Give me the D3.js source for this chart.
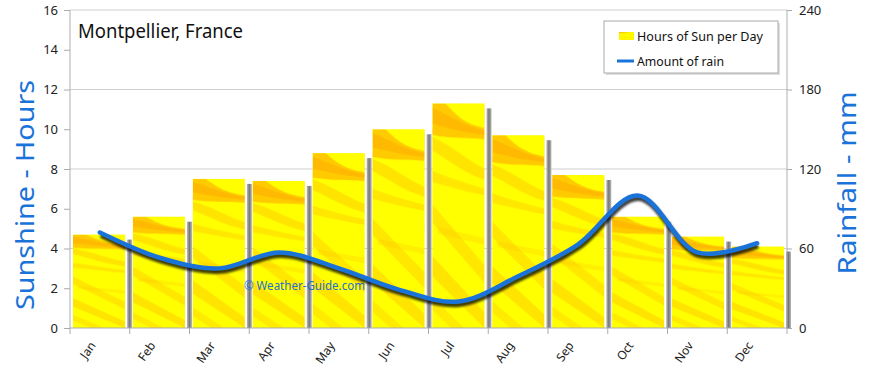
<!DOCTYPE html>
<html><head><meta charset="utf-8">
<script src="https://cdn.jsdelivr.net/npm/d3@7"></script>
<style>
body{margin:0;background:#fff;}
svg{display:block;font-family:"Comic Sans MS","Noto Sans","Open Sans",sans-serif;}
</style></head>
<body>
<svg id="chart" width="870" height="368"></svg>
<script>
const months = ["Jan","Feb","Mar","Apr","May","Jun","Jul","Aug","Sep","Oct","Nov","Dec"];
const sunHours = [4.7,5.6,7.5,7.4,8.8,10.0,11.3,9.7,7.7,5.6,4.6,4.1];
const rainMm = [72,53,45,57,45,29,20,39,63,100,57,64];
const leftTicks = [0,2,4,6,8,10,12,14,16];
const rightTicks = [0,60,120,180,240];

const svg = d3.select("#chart");
const L = 70, R = 787, T = 10, B = 328;
const x = d3.scaleBand().domain(months).range([L,R]).paddingInner(0.13).paddingOuter(0.05);
const xc = d3.scaleBand().domain(months).range([L,R]);
const yL = d3.scaleLinear().domain([0,16]).range([B,T]);
const yR = d3.scaleLinear().domain([0,240]).range([B,T]);

// defs
const defs = svg.append("defs");
const pat = defs.append("pattern").attr("id","sun")
  .attr("patternUnits","objectBoundingBox").attr("patternContentUnits","objectBoundingBox")
  .attr("width",1).attr("height",1);
pat.append("rect").attr("width",1).attr("height",1).attr("fill","#ffff00");
const streaks = [
  ["M0,0 L0.25,0 C0.45,0.05 0.6,0.09 1,0.11 L1,0.16 C0.7,0.15 0.4,0.16 0,0.14 Z","#ffa800",0.6],
  ["M0,0.02 C0.3,0.05 0.6,0.1 1,0.12 L1,0.14 C0.6,0.13 0.3,0.11 0,0.09 Z","#ff9800",0.35],
  ["M0,0.15 C0.4,0.19 0.7,0.26 1,0.29 L1,0.34 C0.6,0.31 0.3,0.25 0,0.21 Z","#ffa500",0.3],
  ["M0,0.3 C0.3,0.33 0.7,0.36 1,0.38 L1,0.41 C0.6,0.39 0.3,0.37 0,0.35 Z","#ffb000",0.3],
  ["M0,0.45 L1,0.72 L1,0.8 L0,0.53 Z","#ffb000",0.3],
  ["M0,0.68 L1,0.93 L1,1 L0,0.77 Z","#ffa500",0.3],
  ["M0.1,0.55 L1,0.6 L1,0.63 L0.1,0.58 Z","#ffc000",0.25],
  ["M0,0.86 L0.6,1 L0.35,1 L0,0.92 Z","#ffb000",0.25]
];
streaks.forEach(s=>pat.append("path").attr("d",s[0]).attr("fill",s[1]).attr("opacity",s[2]));

const shGrad = defs.append("linearGradient").attr("id","shadow").attr("x1",0).attr("x2",1);
shGrad.append("stop").attr("offset",0).attr("stop-color","#bbb");
shGrad.append("stop").attr("offset",0.5).attr("stop-color","#777");
shGrad.append("stop").attr("offset",1).attr("stop-color","#bbb");

const blur = defs.append("filter").attr("id","blur").attr("x","-10%").attr("y","-50%").attr("width","120%").attr("height","200%");
blur.append("feGaussianBlur").attr("stdDeviation",1.2);

// gridlines (at right-axis ticks)
svg.append("g").selectAll("line").data(rightTicks.filter(d=>d>0)).join("line")
  .attr("x1",L).attr("x2",R).attr("y1",d=>yR(d)).attr("y2",d=>yR(d))
  .attr("stroke","#cfcfcf").attr("stroke-width",1.2);

// frame lines
svg.append("line").attr("x1",L).attr("x2",L).attr("y1",T).attr("y2",B).attr("stroke","#bdbdbd").attr("stroke-width",1.2);
svg.append("line").attr("x1",R).attr("x2",R).attr("y1",T).attr("y2",B).attr("stroke","#bdbdbd").attr("stroke-width",1.2);

// left axis
const gl = svg.append("g").attr("transform",`translate(${L},0)`)
  .call(d3.axisLeft(yL).tickValues(leftTicks).tickSize(6).tickPadding(6));
gl.select(".domain").remove();
gl.selectAll(".tick line").attr("stroke","#aaa");
gl.selectAll(".tick text").attr("font-size",13).attr("fill","#222").attr("font-family","Noto Sans, sans-serif");

// right axis
const gr = svg.append("g").attr("transform",`translate(${R},0)`)
  .call(d3.axisRight(yR).tickValues(rightTicks).tickSize(5).tickPadding(7));
gr.select(".domain").remove();
gr.selectAll(".tick line").attr("stroke","#aaa");
gr.selectAll(".tick text").attr("font-size",13).attr("fill","#222").attr("font-family","Noto Sans, sans-serif");

// bar shadows
svg.append("g").selectAll("rect").data(sunHours).join("rect")
  .attr("x",(d,i)=>x(months[i])+x.bandwidth()+2)
  .attr("y",d=>yL(d)+5)
  .attr("width",5)
  .attr("height",d=>B-yL(d)-5)
  .attr("fill","url(#shadow)");

// bars
svg.append("g").selectAll("rect").data(sunHours).join("rect")
  .attr("x",(d,i)=>x(months[i]))
  .attr("y",d=>yL(d))
  .attr("width",x.bandwidth())
  .attr("height",d=>B-yL(d))
  .attr("fill","url(#sun)");

// x axis
svg.append("line").attr("x1",L).attr("x2",R).attr("y1",B).attr("y2",B).attr("stroke","#aaa").attr("stroke-width",1.2);
const bounds = months.map(m=>xc(m)).concat([R]);
svg.append("g").selectAll("line").data(bounds).join("line")
  .attr("x1",d=>d).attr("x2",d=>d).attr("y1",B).attr("y2",B+6).attr("stroke","#aaa");
svg.append("g").selectAll("text").data(months).join("text")
  .attr("transform",d=>`translate(${xc(d)+xc.bandwidth()/2-7},${B+15}) rotate(-55)`)
  .attr("text-anchor","end").attr("dy","0.35em")
  .attr("font-size",12).attr("fill","#222").text(d=>d);

// watermark
svg.append("text").attr("x",244).attr("y",290).attr("font-size",12)
  .attr("fill","#1f6fd0").attr("textLength",121).attr("lengthAdjust","spacingAndGlyphs")
  .text("\u00A9 Weather-Guide.com");

// rain line
const line = d3.line().x((d,i)=>xc(months[i])+xc.bandwidth()/2).y(d=>yR(d)).curve(d3.curveCatmullRom.alpha(0.5));
svg.append("path").datum(rainMm).attr("d",line).attr("fill","none")
  .attr("stroke","#000").attr("stroke-opacity",0.75).attr("stroke-width",5)
  .attr("transform","translate(1,3)").attr("filter","url(#blur)");
svg.append("path").datum(rainMm).attr("d",line).attr("fill","none")
  .attr("stroke","#1a73d9").attr("stroke-width",4.5).attr("stroke-linecap","round");

// title
svg.append("text").attr("x",78).attr("y",38).attr("font-size",20).attr("fill","#111")
  .attr("textLength",165).attr("lengthAdjust","spacingAndGlyphs").text("Montpellier, France");

// axis titles
svg.append("text").attr("transform","translate(34,195) rotate(-90)").attr("text-anchor","middle")
  .attr("font-size",26).attr("fill","#1a73d9").attr("textLength",230).attr("lengthAdjust","spacingAndGlyphs")
  .text("Sunshine - Hours");
svg.append("text").attr("transform","translate(856,183) rotate(-90)").attr("text-anchor","middle")
  .attr("font-size",26).attr("fill","#1a73d9").attr("textLength",183).attr("lengthAdjust","spacingAndGlyphs")
  .text("Rainfall - mm");

// legend
const lg = svg.append("g");
lg.append("rect").attr("x",606).attr("y",23).attr("width",174).attr("height",52).attr("fill","#ddd");
lg.append("rect").attr("x",604).attr("y",21).attr("width",174).attr("height",52).attr("fill","#fff").attr("stroke","#aaa");
lg.append("rect").attr("x",619).attr("y",32).attr("width",15).attr("height",8).attr("fill","url(#sun)");
lg.append("line").attr("x1",617).attr("x2",634).attr("y1",61).attr("y2",61).attr("stroke","#1a73d9").attr("stroke-width",3);
lg.append("text").attr("x",637).attr("y",41).attr("font-size",13).attr("fill","#111")
  .attr("textLength",126).attr("lengthAdjust","spacingAndGlyphs").text("Hours of Sun per Day");
lg.append("text").attr("x",637).attr("y",66).attr("font-size",13).attr("fill","#111")
  .attr("textLength",87).attr("lengthAdjust","spacingAndGlyphs").text("Amount of rain");
</script>
</body></html>
